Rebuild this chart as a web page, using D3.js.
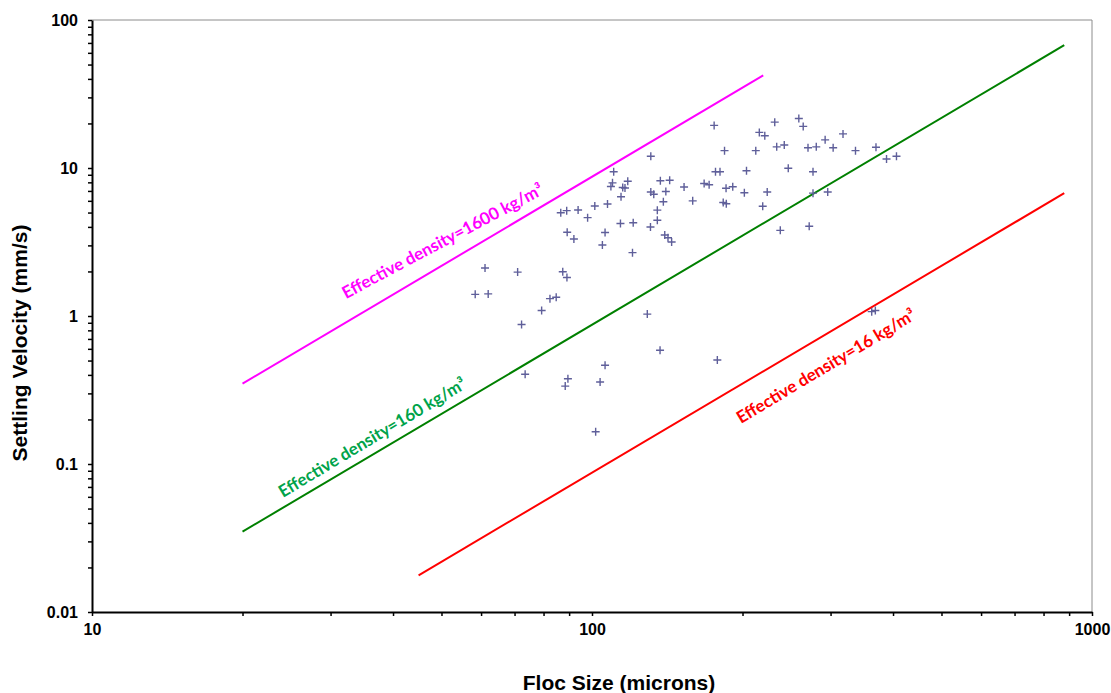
<!DOCTYPE html>
<html>
<head>
<meta charset="utf-8">
<script src="https://cdn.jsdelivr.net/npm/d3@7"></script>
<style>
  html, body { margin: 0; padding: 0; background: #fff; }
  svg { display: block; }
</style>
</head>
<body>
<svg id="chart" width="1111" height="693"></svg>
<script>
// ---- Data ----
const flocSize = [
  58.4, 62.0, 61.1, 71.0, 72.3, 73.5, 79.3, 82.4, 84.8, 86.6,
  89.0, 87.4, 89.1, 88.4, 89.5, 89.2, 92.0, 93.8, 98.0, 101.3,
  101.7, 103.8, 104.9, 106.2, 106.2, 107.4, 110.5, 109.9, 109.1, 117.9,
  115.2, 116.4, 114.3, 114.0, 120.9, 120.5, 129.0, 131.1, 130.9, 131.1,
  132.9, 135.1, 135.1, 136.8, 137.0, 143.0, 140.5, 138.9, 139.8, 141.9,
  144.3, 152.8, 159.0, 167.6, 171.5, 175.5, 176.6, 180.3, 178.1, 183.0,
  185.6, 184.1, 185.4, 191.2, 201.7, 203.7, 212.6, 216.1, 221.6, 219.5,
  224.1, 232.0, 234.1, 242.4, 238.0, 246.9, 259.2, 264.5, 270.4, 271.9,
  280.9, 276.7, 276.7, 292.6, 296.1, 303.6, 317.7, 336.5, 362.6, 368.7,
  369.8, 388.2, 406.4
];
const settlingVelocity = [
  1.40, 1.41, 2.11, 1.98, 0.876, 0.404, 1.09, 1.31, 1.34, 4.99,
  5.15, 1.99, 1.82, 0.336, 0.377, 3.68, 3.31, 5.20, 4.62, 5.54,
  0.165, 0.358, 3.02, 3.67, 0.465, 5.71, 9.43, 7.94, 7.50, 8.13,
  7.38, 7.33, 6.40, 4.22, 4.27, 2.68, 1.03, 12.0, 3.99, 6.88,
  6.64, 5.19, 4.44, 0.587, 8.21, 8.26, 6.94, 5.91, 3.53, 3.38,
  3.16, 7.44, 6.00, 7.86, 7.70, 19.4, 9.43, 9.43, 0.504, 5.85,
  5.73, 13.1, 7.29, 7.47, 6.81, 9.59, 13.1, 17.4, 16.5, 5.52,
  6.88, 20.4, 13.9, 14.3, 3.79, 9.95, 21.6, 19.1, 13.7, 4.04,
  13.9, 9.43, 6.76, 15.5, 6.88, 13.7, 17.0, 13.1, 1.07, 1.09,
  13.8, 11.5, 12.0
];

// Reference lines (endpoints)
const lineNames = ["Effective density=1600 kg/m³", "Effective density=160 kg/m³", "Effective density=16 kg/m³"];
const lineSizes = [[20, 220], [20, 880], [45, 880]];
const lineVelocities = [[0.349, 42.2], [0.0349, 67.6], [0.0177, 6.76]];
const lineColors = ["#ff00ff", "#008000", "#ff0000"];
const labelColors = ["#ff00ff", "#00a34a", "#ff0000"];
// label anchor (start of baseline) in data space, and text angle
const labelSize = [32.2, 24.1, 198.6];
const labelVelocity = [1.30, 0.0589, 0.186];
const labelAngle = [-28, -31, -31];

const xMajor = [10, 100, 1000];
const yMajor = [0.01, 0.1, 1, 10, 100];
const xTitle = "Floc Size (microns)";
const yTitle = "Settling Velocity (mm/s)";

// ---- Chart ----
const svg = d3.select("#chart");
const mLeft = 92, mRight = 1092, mTop = 20, mBottom = 612;

const x = d3.scaleLog().domain([10, 1000]).range([mLeft, mRight]);
const y = d3.scaleLog().domain([0.01, 100]).range([mBottom, mTop]);

const minorTicks = (lo, hi) => {
  const out = [];
  for (let p = lo; p < hi - 1e-12; p *= 10) for (let k = 1; k < 10; k++) out.push(+(p * k).toPrecision(3));
  out.push(hi);
  return out;
};
const fmt = d => (d < 1 ? d.toString() : d3.format("d")(d));

// top & right frame (gray)
svg.append("line").attr("x1", mLeft).attr("x2", mRight).attr("y1", mTop).attr("y2", mTop)
  .attr("stroke", "#8c8c8c").attr("stroke-width", 1);
svg.append("line").attr("x1", mRight).attr("x2", mRight).attr("y1", mTop).attr("y2", mBottom)
  .attr("stroke", "#8c8c8c").attr("stroke-width", 1);

// Axes
const yAxis = d3.axisLeft(y)
  .tickValues(minorTicks(0.01, 100))
  .tickSize(4).tickSizeOuter(0).tickPadding(10)
  .tickFormat(d => yMajor.some(m => Math.abs(m - d) < 1e-9) ? fmt(d) : "");
const gy = svg.append("g").attr("transform", `translate(${mLeft},0)`).call(yAxis);

const xAxis = d3.axisBottom(x)
  .tickValues(minorTicks(10, 1000))
  .tickSize(4).tickSizeOuter(0).tickPadding(8)
  .tickFormat(d => xMajor.some(m => Math.abs(m - d) < 1e-9) ? fmt(d) : "");
const gx = svg.append("g").attr("transform", `translate(0,${mBottom})`).call(xAxis);

[gx, gy].forEach(g => {
  g.select(".domain").attr("stroke", "#000").attr("stroke-width", 2);
  g.selectAll(".tick line").attr("stroke", "#000").attr("stroke-width", 1.5);
  g.selectAll(".tick text")
    .attr("font-family", "'Liberation Sans', Arial, sans-serif")
    .attr("font-weight", "bold").attr("font-size", 16).attr("fill", "#000");
});

// Reference lines
lineNames.forEach((name, i) => {
  const lp = lineSizes[i].map((s, j) => [s, lineVelocities[i][j]]);
  svg.append("path")
    .attr("d", d3.line().x(d => x(d[0])).y(d => y(d[1]))(lp))
    .attr("stroke", lineColors[i]).attr("stroke-width", 2).attr("fill", "none");
});

// Scatter "+" markers
const pts = flocSize.map((s, i) => [s, settlingVelocity[i]]);
const r = 4;
svg.append("g").selectAll("path").data(pts).join("path")
  .attr("d", d => {
    const cx = x(d[0]), cy = y(d[1]);
    return `M${cx - r},${cy}H${cx + r}M${cx},${cy - r}V${cy + r}`;
  })
  .attr("stroke", "#5f5f9a").attr("stroke-width", 1.4).attr("fill", "none");

// Line labels
lineNames.forEach((name, i) => {
  const lx = x(labelSize[i]), ly = y(labelVelocity[i]);
  svg.append("text")
    .attr("transform", `translate(${lx},${ly}) rotate(${labelAngle[i]})`)
    .attr("font-family", "Lato, 'Open Sans', sans-serif")
    .attr("font-weight", "bold").attr("font-size", 17)
    .attr("fill", labelColors[i])
    .text(name);
});

// Axis titles
svg.append("text")
  .attr("x", 619).attr("y", 690).attr("text-anchor", "middle")
  .attr("font-family", "'Liberation Sans', Arial, sans-serif")
  .attr("font-weight", "bold").attr("font-size", 21)
  .text(xTitle);
svg.append("text")
  .attr("transform", "translate(27,343) rotate(-90)").attr("text-anchor", "middle")
  .attr("font-family", "'Liberation Sans', Arial, sans-serif")
  .attr("font-weight", "bold").attr("font-size", 21)
  .text(yTitle);
</script>
</body>
</html>
